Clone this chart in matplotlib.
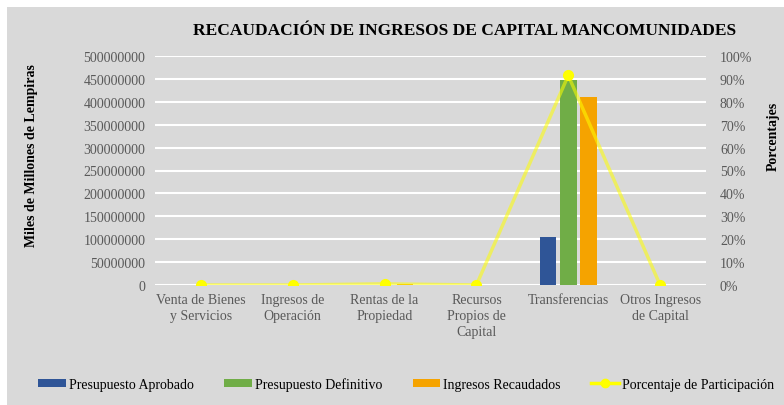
import matplotlib.pyplot as plt
import numpy as np
from matplotlib.lines import Line2D
from matplotlib.patches import Rectangle
from matplotlib.ticker import FuncFormatter, PercentFormatter

categories = [
    "Venta de Bienes\ny Servicios",
    "Ingresos de\nOperación",
    "Rentas de la\nPropiedad",
    "Recursos\nPropios de\nCapital",
    "Transferencias",
    "Otros Ingresos\nde Capital",
]
presupuesto_aprobado = [0, 0, 0, 0, 104000000, 0]
presupuesto_definitivo = [0, 0, 0, 0, 447000000, 0]
ingresos_recaudados = [0, 0, 2500000, 0, 411000000, 0]
porcentaje = [0.0, 0.0, 0.5, 0.0, 91.5, 0.0]

BG = "#D9D9D9"
TXT = "#595959"
FONT = "Liberation Serif"

plt.rcParams["font.family"] = [FONT, "DejaVu Serif"]

fig = plt.figure(figsize=(7.84, 4.06), dpi=100, facecolor="white")
# gray chart area with a thin white margin top/left, like the original
fig.patches.append(Rectangle((7 / 784, 0), 1 - 7 / 784, 1 - 8 / 406,
                             transform=fig.transFigure, facecolor=BG,
                             edgecolor="none", zorder=-10))

ax = fig.add_axes([155 / 784, 1 - 286 / 406, 551 / 784, 229 / 406])
ax.set_facecolor(BG)

x = np.arange(len(categories))
step = 0.223
width = 0.18
ax.bar(x - step, presupuesto_aprobado, width, color="#2F5597", label="Presupuesto Aprobado", zorder=3)
ax.bar(x, presupuesto_definitivo, width, color="#70AD47", label="Presupuesto Definitivo", zorder=3)
ax.bar(x + step, ingresos_recaudados, width, color="#F5A300", label="Ingresos Recaudados", zorder=3)

ax.set_xlim(-0.5, len(categories) - 0.5)
ax.set_ylim(0, 500000000)
ax.set_yticks(np.arange(0, 500000001, 50000000))
ax.yaxis.set_major_formatter(FuncFormatter(lambda v, p: f"{int(v)}"))
ax.set_xticks(x)
ax.set_xticklabels(categories, fontsize=10, color=TXT, linespacing=1.3)
ax.tick_params(axis="y", length=0, pad=7, labelsize=10, labelcolor=TXT)
ax.tick_params(axis="x", length=0, pad=6)
ax.grid(axis="y", color="white", linewidth=1.5, zorder=0)
ax.set_axisbelow(True)
for s in ax.spines.values():
    s.set_visible(False)

# percentage line on the secondary axis
ax2 = ax.twinx()
ax2.plot(x, porcentaje, color="#FFFF00", linewidth=2.5, alpha=0.55, zorder=4)
ax2.plot(x, porcentaje, linestyle="none", marker="o", markersize=7,
         color="#FFFF00", zorder=5)
ax2.set_ylim(0, 100)
ax2.set_yticks(np.arange(0, 101, 10))
ax2.yaxis.set_major_formatter(PercentFormatter(decimals=0))
ax2.tick_params(axis="y", length=0, pad=10, labelsize=10, labelcolor=TXT)
for s in ax2.spines.values():
    s.set_visible(False)

fig.text(465 / 784, 1 - 31 / 406, "RECAUDACIÓN DE INGRESOS DE CAPITAL MANCOMUNIDADES",
         ha="center", va="center", fontsize=12.5, fontweight="bold")
fig.text(32 / 784, 1 - 156 / 406, "Miles de Millones de Lempiras", rotation=90,
         ha="center", va="center", fontsize=10, fontweight="bold")
fig.text(773 / 784, 1 - 136 / 406, "Porcentajes", rotation=90,
         ha="center", va="center", fontsize=10, fontweight="bold")

handles, labels = ax.get_legend_handles_labels()
handles.append(Line2D([], [], color="#FFFF00", linewidth=2.5, marker="o", markersize=6,
                      markerfacecolor="#FFFF00", markeredgecolor="#FFFF00"))
labels.append("Porcentaje de Participación")
fig.legend(handles, labels, loc="center", bbox_to_anchor=(406 / 784, 1 - 385 / 406),
           ncol=4, frameon=False, fontsize=10, handlelength=2.0, handleheight=0.5,
           handletextpad=0.2, columnspacing=2.2)

fig.savefig("out.png", dpi=100, facecolor=fig.get_facecolor())
